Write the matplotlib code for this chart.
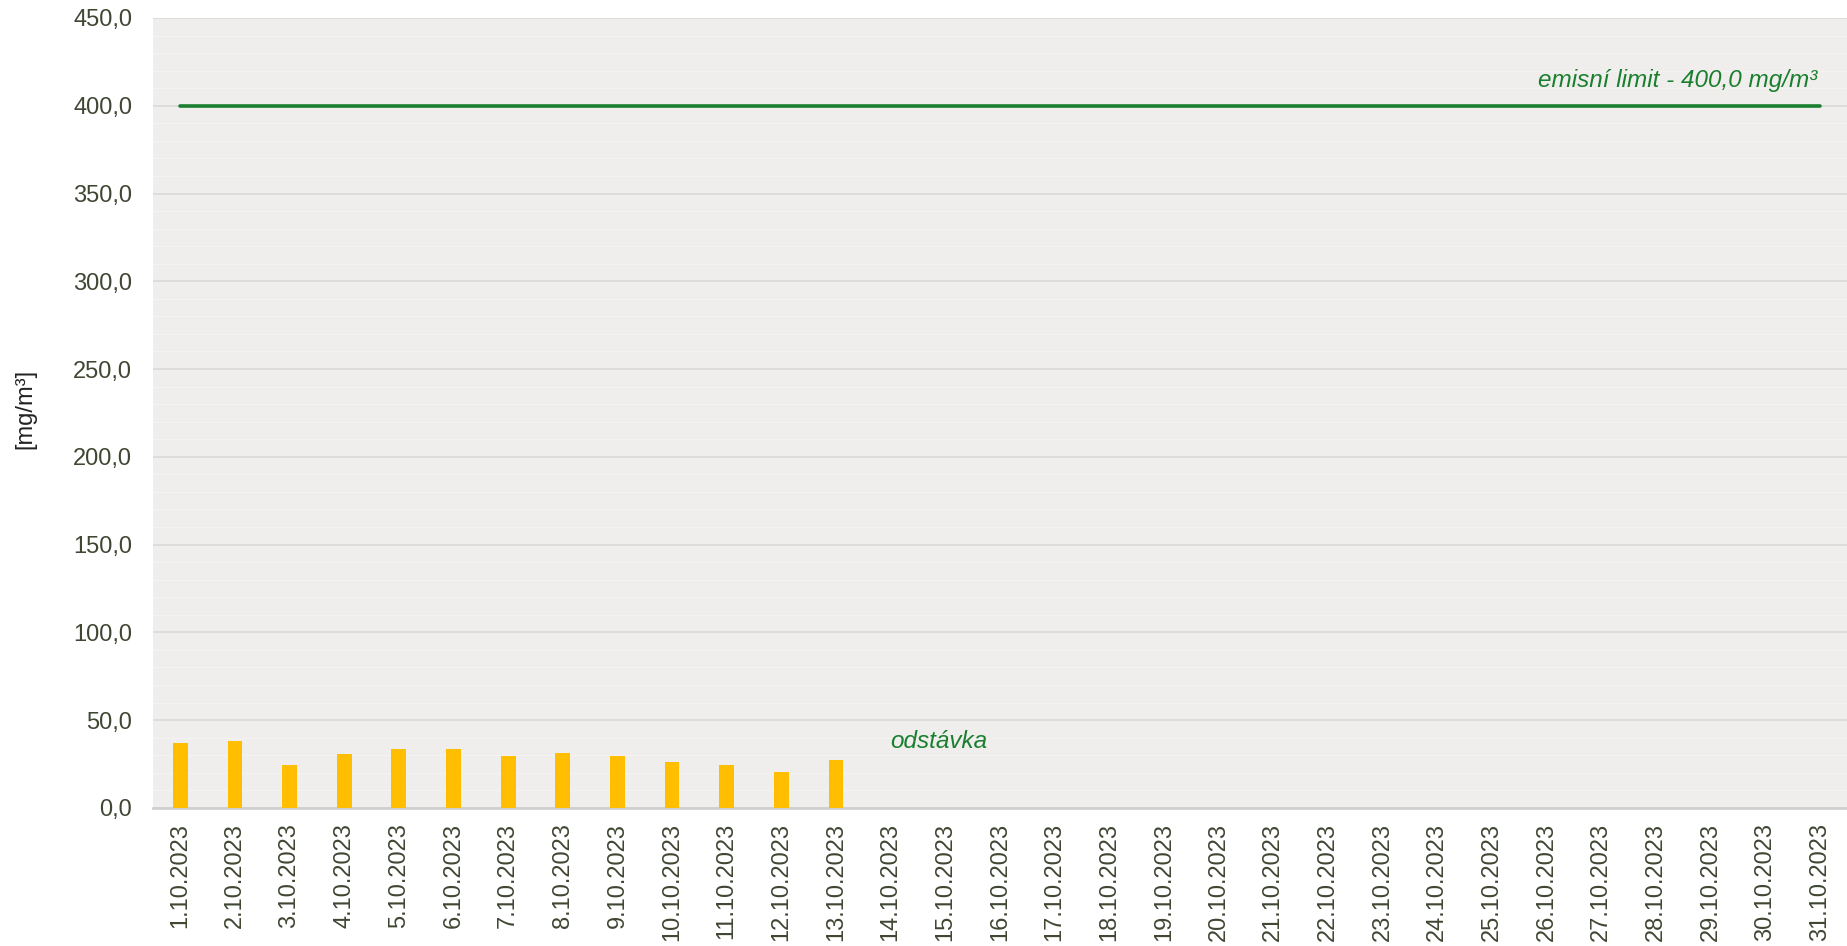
import matplotlib
matplotlib.use("Agg")
import matplotlib.pyplot as plt
from matplotlib.ticker import FuncFormatter, MultipleLocator

# data
dates = [f"{d}.10.2023" for d in range(1, 32)]
values = [36.7, 37.9, 24.2, 30.6, 33.3, 33.7, 29.7, 31.2, 29.7, 26.1, 24.5, 20.2, 27.2]
limit = 400.0
limit_label = "emisní limit - 400,0 mg/m³"
note_label = "odstávka"
y_label = "[mg/m³]"

plt.rcParams["font.family"] = ["Liberation Sans", "DejaVu Sans"]
text_color = "#3f4733"
green = "#1a7f2e"

fig = plt.figure(figsize=(18.47, 9.46), dpi=100)
ax = fig.add_axes([0.0828, 0.146, 0.9172, 0.835])
ax.set_facecolor("#efeeec")

x = list(range(len(dates)))
ax.bar(x[:len(values)], values, width=0.27, color="#ffbf00", zorder=3)
ax.plot([x[0], x[-1]], [limit, limit], color=green, lw=2.6, zorder=4,
        solid_capstyle="round")

ax.text(x[-1] - 0.05, limit + 8, limit_label, color=green, style="italic",
        fontsize=17.5, ha="right", va="bottom")
ax.text(13, 38, note_label, color=green, style="italic",
        fontsize=17.5, ha="left", va="center")

ax.set_xlim(-0.5, len(dates) - 0.5)
ax.set_ylim(0, 450)
ax.yaxis.set_major_locator(MultipleLocator(50))
ax.yaxis.set_minor_locator(MultipleLocator(10))
ax.yaxis.set_major_formatter(FuncFormatter(lambda v, p: f"{v:.1f}".replace(".", ",")))
ax.grid(axis="y", which="major", color="#d9d9d9", lw=1.2, zorder=0)
ax.grid(axis="y", which="minor", color="#f4f3f1", lw=1.0, zorder=0)

ax.set_xticks(x)
ax.set_xticklabels(dates, rotation=90, fontsize=17, color=text_color)
ax.tick_params(axis="x", length=0, pad=11)
ax.tick_params(axis="y", which="both", length=0, pad=15, labelsize=17,
               labelcolor=text_color)

for side in ["top", "right", "left"]:
    ax.spines[side].set_visible(False)
ax.spines["bottom"].set_color("#d0d0d0")
ax.spines["bottom"].set_linewidth(2)

fig.text(0.008, 0.568, y_label, rotation=90, fontsize=17, color="#222222",
         ha="left", va="center")

fig.savefig("out.png", dpi=100)
